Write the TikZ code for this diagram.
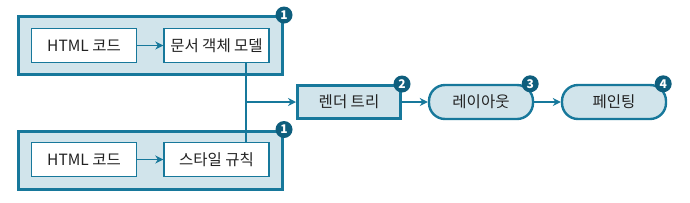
\documentclass[tikz,border=0pt]{standalone}
\usepackage{fontspec}
\setmainfont{Noto Sans CJK KR}
\usetikzlibrary{arrows.meta,positioning}
\definecolor{pipeline}{HTML}{17789B}
\definecolor{pipedark}{HTML}{0E5E7D}
\definecolor{pipefill}{HTML}{D1E4EB}
\definecolor{pipetext}{HTML}{222222}

\begin{document}
\begin{tikzpicture}[
  x=1pt,y=-1pt,
  >={Stealth[length=8pt,width=8pt]},
  group/.style={draw=pipeline,fill=pipefill,line width=3pt,
    minimum width=264pt,minimum height=58pt},
  item/.style={draw=pipeline,fill=white,line width=1.4pt,
    minimum width=105pt,minimum height=34pt},
  stage/.style={draw=pipeline,fill=pipefill,line width=3pt,
    minimum width=103pt,minimum height=33pt},
  pill/.style={draw=pipeline,fill=pipefill,line width=2.4pt,rounded corners=16pt,
    minimum width=104pt,minimum height=34pt},
  badge/.style={circle,fill=pipedark,text=white,inner sep=0pt,minimum size=17pt,
    font=\fontsize{12}{12}\selectfont\bfseries},
  every node/.style={font=\fontsize{15.5}{17}\selectfont,text=pipetext}
]
  \useasboundingbox (0,0) rectangle (690,202);
  % groups
  \node[group] (topgroup) at (150.5,45.5) {};
  \node[group] (botgroup) at (150.5,160) {};
  \node[item] (html1) at (84,45.5) {HTML 코드};
  \node[item] (dom) at (216.5,45.5) {문서 객체 모델};
  \node[item] (html2) at (84,159.5) {HTML 코드};
  \node[item] (css) at (216.5,159.5) {스타일 규칙};
  % stages
  \node[stage] (render) at (349,102) {렌더 트리};
  \node[pill] (layout) at (481,102) {레이아웃};
  \node[pill] (paint) at (614,102) {페인팅};
  % connectors
  \coordinate (join) at (246,102);
  \draw[pipeline,line width=1.4pt,->] (html1) -- (dom);
  \draw[pipeline,line width=1.4pt,->] (html2) -- (css);
  \draw[pipeline,line width=1.4pt] (dom.south -| join) -- (css.north -| join);
  \draw[pipeline,line width=1.4pt,->] (join) -- (render);
  \draw[pipeline,line width=1.4pt,->] (render) -- (layout);
  \draw[pipeline,line width=1.4pt,->] (layout) -- (paint);
  % badges
  \node[badge] (b1) at (topgroup.north east) {1};
  \node[badge] (b1b) at (botgroup.north east) {1};
  \node[badge] (b2) at (render.north east) {2};
  \node[badge] (b3) at ([xshift=-4pt]layout.north east) {3};
  \node[badge] (b4) at ([xshift=-4pt]paint.north east) {4};
\end{tikzpicture}
\end{document}
